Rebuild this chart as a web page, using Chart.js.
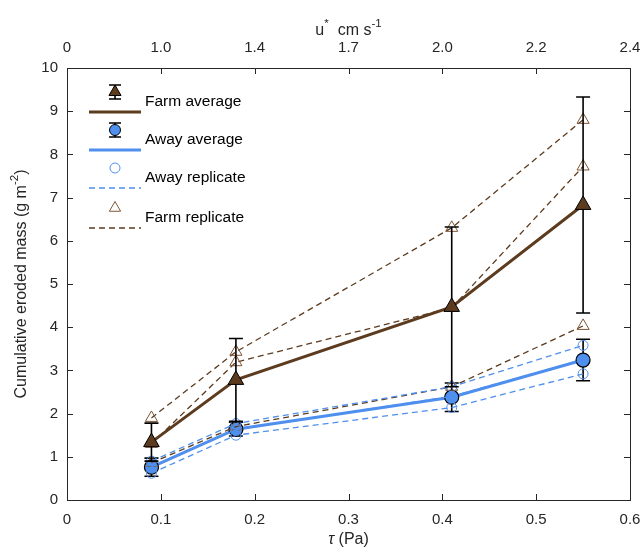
<!DOCTYPE html>
<html>
<head>
<meta charset="utf-8">
<script src="https://cdn.jsdelivr.net/npm/chart.js@4.4.1/dist/chart.umd.min.js"></script>
<style>
	html, body { margin: 0; padding: 0; background: #fff; }
	#wrap { width: 644px; height: 552px; }
</style>
</head>
<body>
<div id="wrap"><canvas id="chartErodedMass"></canvas></div>
<script>
const TAU = [0.09, 0.18, 0.41, 0.55];
const TOP_LABELS = ['0', '1.0', '1.4', '1.7', '2.0', '2.2', '2.4'];

const FARM_AVG = [1.34, 2.78, 4.47, 6.83];
const FARM_ERR = [0.44, 0.96, 1.85, 2.5];
const AWAY_AVG = [0.76, 1.64, 2.38, 3.24];
const AWAY_ERR = [0.21, 0.16, 0.33, 0.48];

const FARM_REP_1 = [1.9, 3.43, 6.3, 8.8];
const FARM_REP_2 = [1.3, 3.19, 4.45, 7.72];
const FARM_REP_3 = [0.86, 1.7, 2.62, 4.03];
const AWAY_REP_1 = [0.9, 1.77, 2.62, 3.58];
const AWAY_REP_2 = [0.77, 1.63, 2.4, 3.24];
const AWAY_REP_3 = [0.62, 1.5, 2.14, 2.92];

const BROWN = '#5c3b1f';
const BROWN_LIGHT = '#7d5434';
const BLUE = '#4f8fee';
const AXIS_COLOR = '#262626';
const FONT = '"Liberation Sans", Arial, Helvetica, sans-serif';

function toPoints(values) {
	return values.map((v, i) => ({ x: TAU[i], y: v }));
}

function replicate(values, color, style, radius) {
	return {
		data: toPoints(values),
		borderColor: color,
		borderWidth: 1.3,
		borderDash: [6, 4],
		pointStyle: style,
		pointRadius: radius,
		pointBorderColor: style === 'triangle' ? BROWN_LIGHT : BLUE,
		pointBackgroundColor: 'rgba(0,0,0,0)',
		pointBorderWidth: 1,
		order: 2,
	};
}

function drawSup(ctx, parts, x, y, size) {
	// parts: [text, isSuperscript, isItalic]
	let total = 0;
	parts.forEach(([t, sup, italic]) => {
		ctx.font = (italic ? 'italic ' : '') + (sup ? size * 0.72 : size) + 'px ' + FONT;
		total += ctx.measureText(t).width;
	});
	let cx = x - total / 2;
	parts.forEach(([t, sup, italic]) => {
		ctx.font = (italic ? 'italic ' : '') + (sup ? size * 0.72 : size) + 'px ' + FONT;
		ctx.fillText(t, cx, sup ? y - size * 0.42 : y);
		cx += ctx.measureText(t).width;
	});
}

function drawMarker(ctx, style, x, y, radius, fill, stroke, lw) {
	ctx.save();
	ctx.fillStyle = fill;
	ctx.strokeStyle = stroke;
	ctx.lineWidth = lw;
	Chart.helpers.drawPoint(ctx, { pointStyle: style, radius: radius, rotation: 0, borderWidth: lw }, x, y);
	ctx.restore();
}

function drawErrorBar(ctx, x, yTop, yBottom, capHalf) {
	ctx.beginPath();
	ctx.moveTo(x, yTop);
	ctx.lineTo(x, yBottom);
	ctx.moveTo(x - capHalf, yTop);
	ctx.lineTo(x + capHalf, yTop);
	ctx.moveTo(x - capHalf, yBottom);
	ctx.lineTo(x + capHalf, yBottom);
	ctx.stroke();
}

const errorBarPlugin = {
	id: 'errorBars',
	beforeDatasetDraw(chart, args) {
		const ds = chart.data.datasets[args.index];
		if (!ds.errors) return;
		const ctx = chart.ctx;
		const xs = chart.scales.x;
		const ys = chart.scales.y;
		ctx.save();
		ctx.strokeStyle = '#000';
		ctx.lineWidth = 1.6;
		ds.data.forEach((p, i) => {
			const px = xs.getPixelForValue(p.x);
			drawErrorBar(ctx, px, ys.getPixelForValue(p.y + ds.errors[i]), ys.getPixelForValue(p.y - ds.errors[i]), 7);
		});
		ctx.restore();
	},
};

const framePlugin = {
	id: 'frame',
	afterDraw(chart) {
		const ctx = chart.ctx;
		const area = chart.chartArea;
		const xs = chart.scales.x;
		const ys = chart.scales.y;
		const tick = 6;
		ctx.save();
		ctx.strokeStyle = AXIS_COLOR;
		ctx.lineWidth = 1;
		ctx.beginPath();
		xs.ticks.forEach(t => {
			const px = Math.round(xs.getPixelForValue(t.value)) + 0.5;
			ctx.moveTo(px, area.bottom);
			ctx.lineTo(px, area.bottom - tick);
			ctx.moveTo(px, area.top);
			ctx.lineTo(px, area.top + tick);
		});
		ys.ticks.forEach(t => {
			const py = Math.round(ys.getPixelForValue(t.value)) + 0.5;
			ctx.moveTo(area.left, py);
			ctx.lineTo(area.left + tick, py);
			ctx.moveTo(area.right, py);
			ctx.lineTo(area.right - tick, py);
		});
		ctx.stroke();
		ctx.strokeRect(Math.round(area.left) + 0.5, Math.round(area.top) + 0.5,
			Math.round(area.right - area.left), Math.round(area.bottom - area.top));

		// axis titles
		ctx.fillStyle = AXIS_COLOR;
		ctx.textBaseline = 'middle';
		ctx.textAlign = 'left';
		drawSup(ctx, [['τ', false, true], [' (Pa)', false]], (area.left + area.right) / 2, 540, 16);
		drawSup(ctx, [['u', false], ['*', true], ['  cm s', false], ['-1', true]], (area.left + area.right) / 2, 31, 16);
		ctx.save();
		ctx.translate(22, (area.top + area.bottom) / 2);
		ctx.rotate(-Math.PI / 2);
		drawSup(ctx, [['Cumulative eroded mass (g m', false], ['-2', true], [')', false]], 0, 0, 16);
		ctx.restore();

		// legend, MATLAB style: marker above line
		const entries = [
			{ label: 'Farm average', y: 102, style: 'triangle', r: 7, fill: BROWN, stroke: '#000', color: BROWN, width: 3, dash: [], err: true },
			{ label: 'Away average', y: 140, style: 'circle', r: 5.5, fill: BLUE, stroke: '#000', color: BLUE, width: 3, dash: [], err: true },
			{ label: 'Away replicate', y: 178, style: 'circle', r: 5, fill: 'rgba(0,0,0,0)', stroke: BLUE, color: BLUE, width: 1.3, dash: [6, 4] },
			{ label: 'Farm replicate', y: 218, style: 'triangle', r: 6.5, fill: 'rgba(0,0,0,0)', stroke: BROWN_LIGHT, color: BROWN, width: 1.3, dash: [6, 4] },
		];
		entries.forEach(e => {
			const my = e.y - 10;
			const ly = e.y + 10;
			ctx.save();
			ctx.strokeStyle = e.color;
			ctx.lineWidth = e.width;
			ctx.setLineDash(e.dash);
			ctx.beginPath();
			ctx.moveTo(89, ly);
			ctx.lineTo(141, ly);
			ctx.stroke();
			ctx.restore();
			if (e.err) {
				ctx.save();
				ctx.strokeStyle = '#000';
				ctx.lineWidth = 1.6;
				drawErrorBar(ctx, 115, my - 7, my + 7, 6);
				ctx.restore();
			}
			drawMarker(ctx, e.style, 115, my, e.r, e.fill, e.stroke, 1);
			ctx.fillStyle = '#000';
			ctx.font = '15.5px ' + FONT;
			ctx.textAlign = 'left';
			ctx.fillText(e.label, 145, e.y);
		});
		ctx.restore();
	},
};

const ctx = document.querySelector('#chartErodedMass').getContext('2d');

const TICK_FONT = { family: FONT, size: 15 };

function fitX(height) {
	return scale => {
		scale.height = height;
		scale.paddingLeft = 0;
		scale.paddingRight = 0;
	};
}

new Chart(ctx, {
	type: 'line',
	data: {
		datasets: [
			{
				label: 'Farm average',
				data: toPoints(FARM_AVG),
				errors: FARM_ERR,
				borderColor: BROWN,
				borderWidth: 3,
				pointStyle: 'triangle',
				pointRadius: 9,
				pointBackgroundColor: BROWN,
				pointBorderColor: '#000',
				pointBorderWidth: 1,
				order: 1,
			},
			{
				label: 'Away average',
				data: toPoints(AWAY_AVG),
				errors: AWAY_ERR,
				borderColor: BLUE,
				borderWidth: 3,
				pointStyle: 'circle',
				pointRadius: 7,
				pointBackgroundColor: BLUE,
				pointBorderColor: '#000',
				pointBorderWidth: 1.2,
				order: 4,
			},
			replicate(AWAY_REP_1, BLUE, 'circle', 5),
			replicate(AWAY_REP_2, BLUE, 'circle', 5),
			replicate(AWAY_REP_3, BLUE, 'circle', 5),
			replicate(FARM_REP_1, BROWN, 'triangle', 7),
			replicate(FARM_REP_2, BROWN, 'triangle', 7),
			replicate(FARM_REP_3, BROWN, 'triangle', 7),
		],
	},
	options: {
		responsive: true,
		maintainAspectRatio: false,
		animation: false,
		devicePixelRatio: 1,
		layout: {
			padding: { left: 0, right: 14, top: 0, bottom: 0 },
		},
		scales: {
			x: {
				type: 'linear',
				position: 'bottom',
				min: 0,
				max: 0.6,
				ticks: {
					stepSize: 0.1,
					padding: 11,
					color: AXIS_COLOR,
					font: TICK_FONT,
					callback: v => (v === 0 ? '0' : v.toFixed(1)),
				},
				grid: { display: false, drawTicks: false },
				border: { display: false },
				afterFit: fitX(52),
			},
			xTop: {
				type: 'linear',
				position: 'top',
				min: 0,
				max: 0.6,
				ticks: {
					stepSize: 0.1,
					padding: 11,
					color: AXIS_COLOR,
					font: TICK_FONT,
					callback: (v, i) => TOP_LABELS[i],
				},
				grid: { display: false, drawTicks: false },
				border: { display: false },
				afterFit: fitX(68),
			},
			y: {
				min: 0,
				max: 10,
				ticks: {
					stepSize: 1,
					padding: 9,
					color: AXIS_COLOR,
					font: TICK_FONT,
				},
				grid: { display: false, drawTicks: false },
				border: { display: false },
				afterFit: scale => {
					scale.width = 67;
					scale.paddingTop = 0;
					scale.paddingBottom = 0;
				},
			},
		},
		plugins: {
			legend: { display: false },
			tooltip: { enabled: false },
			title: { display: false },
		},
	},
	plugins: [errorBarPlugin, framePlugin],
});
</script>
</body>
</html>
